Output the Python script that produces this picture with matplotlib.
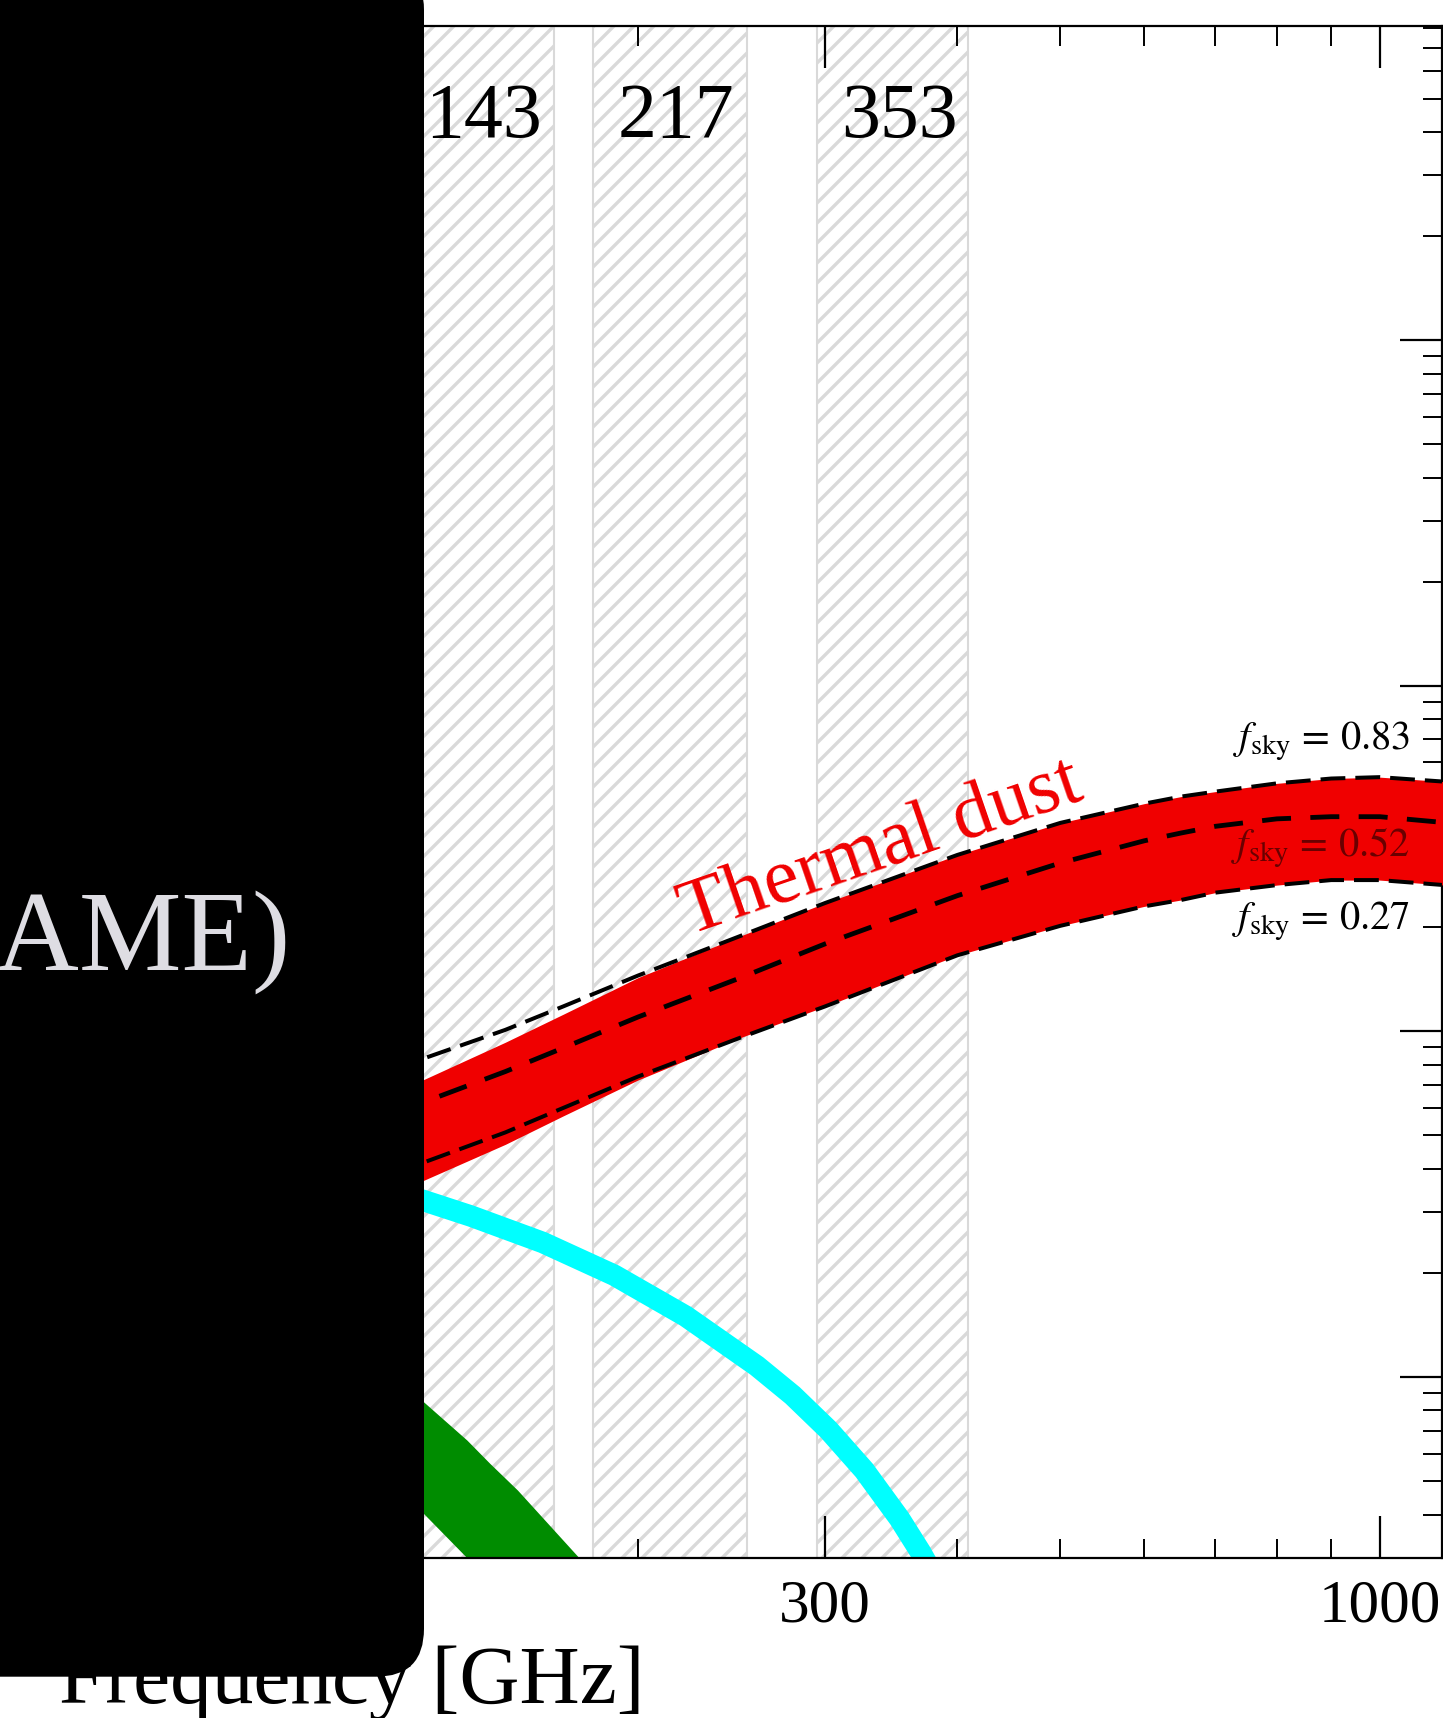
import matplotlib
matplotlib.use('Agg')
import matplotlib.pyplot as plt
from matplotlib.patches import FancyBboxPatch
from matplotlib.transforms import IdentityTransform
from matplotlib.ticker import NullFormatter

DPI = 120

plt.rcParams['font.family'] = ['Liberation Serif', 'DejaVu Serif']
plt.rcParams['mathtext.fontset'] = 'stix'
plt.rcParams['hatch.linewidth'] = 2.0

# Planck HFI bands (GHz)
band_labels = ['143', '217', '353']
band_centers = [143, 217, 353]
band_lo = [119.5, 181.3, 294.9]
band_hi = [166.6, 253.2, 409.0]

# thermal dust rms for three sky fractions
dust_freq = [118, 125, 150, 170, 200, 250, 300, 400, 500, 600, 650, 700, 800, 900, 1000, 1150]
fsky83 = [77.5, 83, 101, 118, 145, 189, 235, 324, 401, 456, 478, 494, 522, 539, 544, 528]
fsky52 = [57.5, 62, 76.5, 89.5, 110, 143, 179, 247, 307, 356, 375, 392, 412, 418, 418, 402]
fsky27 = [38.4, 41.5, 51, 60, 74, 96, 118, 166, 202, 230, 240, 252, 265, 274, 274, 265]
dust_hi = [67, 72, 93, 112, 143, 189, 235, 324, 401, 456, 478, 494, 522, 539, 544, 528]
dust_lo = [34, 36.8, 47.1, 56.9, 72.3, 96, 118, 166, 202, 230, 240, 252, 265, 274, 274, 265]

# CMB
cmb_freq = [115, 125.6, 139.3, 162.7, 190, 221.8, 258.9, 279.8, 302.4, 326.8, 352.8, 369.6, 385]
cmb_rms = [35.0, 32.4, 29.2, 24.5, 19.7, 15.0, 10.76, 8.85, 7.03, 5.37, 3.89, 3.10, 2.48]

# green component
green_freq = [115, 125.6, 138, 145, 154, 176, 190]
green_hi = [10.8, 8.48, 6.57, 5.63, 4.71, 3.0, 2.4]
green_lo = [5.2, 4.03, 3.0, 2.6, 2.2, 1.6, 1.3]

fsky_text = [r'$f_{\rm sky}\,=\,0.83$', r'$f_{\rm sky}\,=\,0.52$', r'$f_{\rm sky}\,=\,0.27$']
fsky_text_y = [652, 320, 196.6]
fsky_text_col = ['black', '#6a0000', 'black']

fig = plt.figure(figsize=(1443 / DPI, 1718 / DPI), dpi=DPI)
ax = fig.add_axes([-0.5149, 0.09331, 1.51393, 0.89167])
ax.set_xscale('log')
ax.set_yscale('log')
ax.set_xlim(10, 1143.6)
ax.set_ylim(3.0, 8.12e4)

for lo, hi, c, lab in zip(band_lo, band_hi, band_centers, band_labels):
    ax.axvspan(lo, hi, facecolor='white', edgecolor='#d9d9d9', hatch='//', lw=1.25, zorder=1)
    ax.text(c, 0.9274, lab, transform=ax.get_xaxis_transform(), ha='center',
            va='baseline', fontsize=46.7, zorder=5)

ax.fill_between(green_freq, green_lo, green_hi, color='#008c00', lw=0, zorder=2)
ax.plot(cmb_freq, cmb_rms, color='#00ffff', lw=12.9, solid_capstyle='butt',
        solid_joinstyle='round', zorder=2)

ax.fill_between(dust_freq, dust_lo, dust_hi, color='#f00000', lw=0, zorder=3)
ax.plot(dust_freq, fsky83, color='black', lw=2.4, dashes=(6.2, 2.5), zorder=4)
ax.plot(dust_freq, fsky52, color='black', lw=2.9, dashes=(6.0, 4.0), zorder=4)
ax.plot(dust_freq, fsky27, color='black', lw=2.4, dashes=(6.2, 2.5), zorder=4)

for t, yv, col in zip(fsky_text, fsky_text_y, fsky_text_col):
    ax.text(1068.6, yv, t, ha='right', va='baseline', fontsize=24.2, color=col, zorder=5)

ax.text(339.1, 337, 'Thermal dust', color='#f00000', fontsize=47.5, rotation=19,
        rotation_mode='anchor', ha='center', va='center', zorder=5)

ax.set_xticks([10, 30, 100, 300, 1000], labels=['10', '30', '100', '300', '1000'])
ax.set_xticks([20, 40, 50, 60, 70, 80, 90, 200, 400, 500, 600, 700, 800, 900], minor=True)
ax.xaxis.set_minor_formatter(NullFormatter())
ax.tick_params(which='both', direction='in', top=True, right=True, labelright=False)
ax.tick_params(which='major', length=25, width=1.33, labelsize=36.7, pad=12.5)
ax.tick_params(which='minor', length=11.7, width=1.17)
for s in ax.spines.values():
    s.set_linewidth(1.33)

ax.set_xlabel('Frequency [GHz]', fontsize=50)
ax.xaxis.set_label_coords(0.501, -0.057)

# dark overlay box on the left (pixel units)
box = FancyBboxPatch((-100, 41.3), 524, 1756 - 41.3,
                     boxstyle='round,pad=0,rounding_size=48',
                     transform=IdentityTransform(), facecolor='black',
                     edgecolor='none', zorder=10)
fig.add_artist(box)
fig.text(291 / 1443, 1 - 970 / 1718, '(AME)', ha='right', va='baseline',
         color='#dedde3', fontsize=69.2, zorder=11)
fig.text(1.5 / 1443, 1 - 1418 / 1718, ')', ha='right', va='baseline',
         color='#dedde3', fontsize=69.2, zorder=11)

fig.savefig('out.png', dpi=DPI)
